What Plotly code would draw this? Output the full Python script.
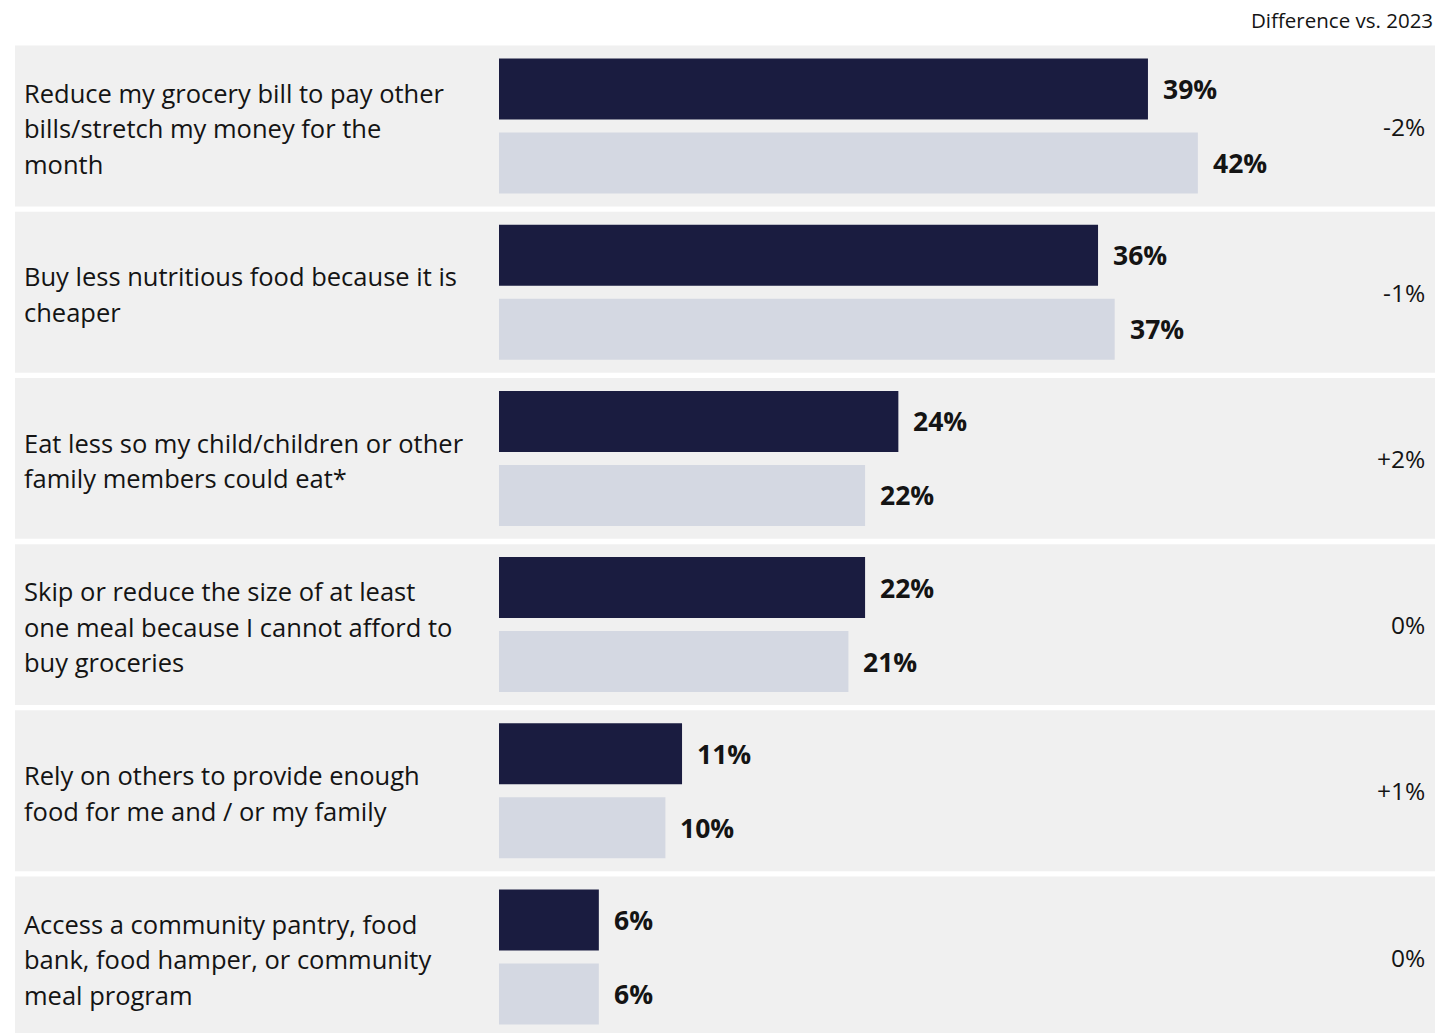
import plotly.graph_objects as go

# Survey responses: share of respondents taking each action, 2024 vs 2023
categories = [
    "Reduce my grocery bill to pay other<br>bills/stretch my money for the<br>month",
    "Buy less nutritious food because it is<br>cheaper",
    "Eat less so my child/children or other<br>family members could eat*",
    "Skip or reduce the size of at least<br>one meal because I cannot afford to<br>buy groceries",
    "Rely on others to provide enough<br>food for me and / or my family",
    "Access a community pantry, food<br>bank, food hamper, or community<br>meal program",
]
values_2024 = [39, 36, 24, 22, 11, 6]
values_2023 = [42, 37, 22, 21, 10, 6]
difference = ["-2%", "-1%", "+2%", "0%", "+1%", "0%"]
header = "Difference vs. 2023"

W, H = 1435, 1033
ROW_PX = 166.2          # vertical pitch of one category band
TOP_CENTER_PX = 126     # centre of the first band
PX_PER_PCT = 16.64
BAR_LEFT_PX = 499

DARK = "#1a1c40"
LIGHT = "#d4d8e2"
BAND = "#f0f0f0"
TEXT = "#141414"
FONT = "Open Sans"

n = len(categories)
rows = list(range(n))
off = 37 / ROW_PX
bar_w = 61 / ROW_PX

fig = go.Figure()
fig.add_trace(go.Bar(
    x=values_2024, y=[r - off for r in rows], orientation="h",
    width=bar_w, marker=dict(color=DARK, line=dict(width=0)), name="2024",
    hoverinfo="skip",
))
fig.add_trace(go.Bar(
    x=values_2023, y=[r + off for r in rows], orientation="h",
    width=bar_w, marker=dict(color=LIGHT, line=dict(width=0)), name="2023",
    hoverinfo="skip",
))

shapes = []
annotations = []
line_step = 35.5 / ROW_PX
for r in rows:
    # grey band behind each category
    shapes.append(dict(
        type="rect", xref="paper", yref="y", layer="below",
        x0=15 / W, x1=1, y0=r - 0.484, y1=r + 0.484,
        fillcolor=BAND, line=dict(width=0),
    ))
    # category label, one annotation per line for even spacing
    lines = categories[r].split("<br>")
    for k, ln in enumerate(lines):
        annotations.append(dict(
            xref="paper", yref="y", x=22 / W,
            y=r + 2 / ROW_PX + (k - (len(lines) - 1) / 2) * line_step,
            text=ln, showarrow=False, xanchor="left", yanchor="middle",
            font=dict(family=FONT, size=25.5, color=TEXT),
        ))
    # value labels at the bar ends
    for val, yy in ((values_2024[r], r - off), (values_2023[r], r + off)):
        annotations.append(dict(
            xref="x", yref="y", x=val, y=yy, text=f"<b>{val}%</b>",
            showarrow=False, xanchor="left", yanchor="middle", xshift=13,
            font=dict(family=FONT, size=26.5, color=TEXT),
        ))
    # year-over-year difference
    annotations.append(dict(
        xref="paper", yref="y", x=1427 / W, y=r, text=difference[r],
        showarrow=False, xanchor="right", yanchor="middle",
        font=dict(family=FONT, size=24.5, color=TEXT),
    ))

annotations.append(dict(
    xref="paper", yref="paper", x=1435 / W, y=1 - 20 / H, text=header,
    showarrow=False, xanchor="right", yanchor="middle",
    font=dict(family=FONT, size=20.5, color=TEXT),
))

y_top = -TOP_CENTER_PX / ROW_PX
y_bottom = (H - TOP_CENTER_PX) / ROW_PX

fig.update_layout(
    width=W, height=H,
    margin=dict(l=0, r=0, t=0, b=0),
    paper_bgcolor="white", plot_bgcolor="rgba(0,0,0,0)",
    showlegend=False, barmode="overlay", hovermode=False,
    shapes=shapes, annotations=annotations,
    xaxis=dict(domain=[BAR_LEFT_PX / W, 1], range=[0, (W - BAR_LEFT_PX) / PX_PER_PCT],
               visible=False, fixedrange=True),
    yaxis=dict(range=[y_bottom, y_top], visible=False, fixedrange=True),
)

fig.write_html("out.html", config={"displayModeBar": False})
